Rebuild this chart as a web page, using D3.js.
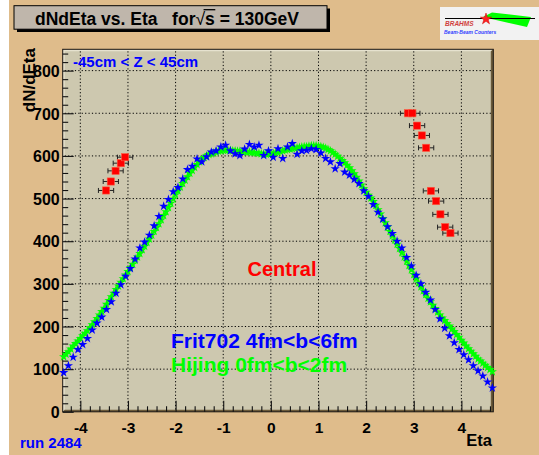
<!DOCTYPE html>
<html><head><meta charset="utf-8">
<script src="https://cdn.jsdelivr.net/npm/d3@7"></script>
<style>
html,body{margin:0;padding:0;background:#fff;}
svg text{font-family:"Liberation Sans",Arial,Helvetica,sans-serif;font-weight:bold;white-space:pre;}
</style></head>
<body><svg id="c" width="539" height="455"></svg>
<script>
// ---------- data ----------
const xTicks = [-4,-3,-2,-1,0,1,2,3,4];
const yTicks = [0,100,200,300,400,500,600,700,800];

// Hijing 0fm<b<2fm (green), bins of 0.05 in eta starting at -4.35
const hijingStart = -4.35, hijingStep = 0.05;
const hijingVal = [
 129,135,141,147,154,160,166,172,178,184,
 190,197,204,211,219,227,235,243,252,261,
 270,278,287,295,304,312,321,329,338,346,
 355,363,371,380,388,397,405,414,423,432,
 441,450,460,469,479,489,499,509,518,527,
 535,543,551,559,566,573,580,586,592,596,
 600,603,605,607,609,611,612,613,613,613,
 613,612,612,611,611,610,610,609,609,608,
 608,607,606,605,605,604,605,605,606,607,
 609,610,612,614,615,616,617,618,619,620,
 621,622,622,623,624,624,624,623,622,620,
 618,615,612,608,604,599,594,589,584,578,
 572,565,558,550,541,532,523,515,508,501,
 493,484,474,464,453,443,433,423,413,403,
 393,383,373,363,353,343,333,322,312,302,
 293,284,275,266,258,250,242,234,227,220,
 214,207,201,194,188,181,175,168,161,154,
 148,142,136,130,124,119,114,109,104,99,
 94];
const hijingEta = hijingVal.map((v,i)=>Math.round((hijingStart + i*hijingStep)*100)/100);

// Frit702 4fm<b<6fm (blue)
const fritEta = [-4.35,-4.25,-4.15,-4.05,-3.95,-3.85,-3.75,-3.65,-3.55,-3.45,-3.35,-3.25,-3.15,-3.05,-2.95,-2.85,-2.75,-2.65,-2.55,-2.45,-2.35,-2.25,-2.15,-2.05,-1.95,-1.85,-1.75,-1.65,-1.55,-1.45,-1.35,-1.25,-1.15,-1.05,-0.95,-0.85,-0.75,-0.65,-0.55,-0.45,-0.35,-0.25,-0.15,-0.05,0.05,0.15,0.25,0.35,0.45,0.55,0.65,0.75,0.85,0.95,1.05,1.15,1.25,1.35,1.45,1.55,1.65,1.75,1.85,1.95,2.05,2.15,2.25,2.35,2.45,2.55,2.65,2.75,2.85,2.95,3.05,3.15,3.25,3.35,3.45,3.55,3.65,3.75,3.85,3.95,4.05,4.15,4.25,4.35,4.45,4.55,4.65];
const fritVal = [92,108,128,146,158,172,192,208,222,240,258,278,298,318,336,358,384,398,414,436,458,482,498,516,526,546,568,576,593,586,598,609,612,621,625,612,605,601,616,627,621,625,601,612,597,617,594,621,629,604,612,613,617,615,607,594,586,570,582,562,555,545,535,518,505,486,468,452,434,418,400,384,362,342,320,300,280,262,240,218,196,178,162,146,134,122,108,96,84,70,56];

// BRAHMS data (red squares, with eta errors)
const brahmsEta = [-3.46,-3.36,-3.26,-3.15,-3.06,2.88,2.97,3.07,3.17,3.26,3.36,3.47,3.56,3.66,3.77];
const brahmsVal = [519,540,565,583,597,700,700,671,648,619,518,494,463,433,419];
const brahmsErr = [0.16,0.16,0.16,0.16,0.16,0.16,0.16,0.16,0.16,0.16,0.16,0.16,0.16,0.16,0.16];

// ---------- drawing ----------
const svg = d3.select("#c");
const W = 539, H = 455;
const bg = "#dfbc8b", frameFill = "#cdc8af";

svg.append("rect").attr("x",0).attr("y",0).attr("width",W).attr("height",H).attr("fill","#ffffff");
svg.append("rect").attr("x",9).attr("y",0).attr("width",W-9).attr("height",H).attr("fill",bg);

const x0 = 62.7, x1 = 493.3, y0 = 411.8, y1 = 49.3;
const x = d3.scaleLinear().domain([-4.37, 4.67]).range([x0, x1]);
const y = d3.scaleLinear().domain([0, 850]).range([y0, y1]);

// frame
svg.append("rect").attr("x",x0).attr("y",y1).attr("width",x1-x0).attr("height",y0-y1).attr("fill",frameFill);
svg.append("path").attr("fill","#e6e2cf")
  .attr("d",`M${x0},${y1}H${x1}L${x1-2},${y1+2}H${x0+2}V${y0-2}L${x0},${y0}Z`);
svg.append("path").attr("fill","#6b5a3a")
  .attr("d",`M${x1},${y1}V${y0}H${x0}L${x0+2},${y0-2}H${x1-2.5}V${y1+2}Z`);
svg.append("rect").attr("x",x0).attr("y",y1).attr("width",x1-x0).attr("height",y0-y1)
  .attr("fill","none").attr("stroke","#1a1410").attr("stroke-width",1);

// grid
const grid = svg.append("g").attr("stroke","#000").attr("stroke-width",1).attr("stroke-dasharray","1.2,2.2");
grid.selectAll(".gx").data(xTicks).join("line")
  .attr("x1",d=>x(d)).attr("x2",d=>x(d)).attr("y1",y1+2).attr("y2",y0-2);
grid.selectAll(".gy").data(yTicks.filter(d=>d>0)).join("line")
  .attr("y1",d=>y(d)).attr("y2",d=>y(d)).attr("x1",x0+2).attr("x2",x1-2);

// axes (ticks inside)
const xMinor = d3.range(-4.2, 4.61, 0.2).map(v=>Math.round(v*10)/10).filter(v=>!xTicks.includes(v));
const yMinor = d3.range(20, 841, 20).filter(v=>v%100!==0);

const gx = svg.append("g").attr("transform",`translate(0,${y0})`)
  .call(d3.axisBottom(x).tickValues(xTicks).tickSize(-11).tickPadding(10.5).tickFormat(d3.format("d")));
svg.append("g").attr("transform",`translate(0,${y0})`)
  .call(d3.axisBottom(x).tickValues(xMinor).tickSize(-5.5).tickFormat(""));
const gy = svg.append("g").attr("transform",`translate(${x0},0)`)
  .call(d3.axisLeft(y).tickValues(yTicks).tickSize(-11).tickPadding(4).tickFormat(d3.format("d")));
svg.append("g").attr("transform",`translate(${x0},0)`)
  .call(d3.axisLeft(y).tickValues(yMinor).tickSize(-5.5).tickFormat(""));
svg.selectAll(".domain").remove();
svg.selectAll(".tick line").attr("stroke","#111").attr("stroke-width",1.1);
gx.selectAll("text").attr("font-size",15.5).attr("fill","#000").attr("dy","0.71em")
  .text(d=>d<0? "-"+Math.abs(d) : d);
gy.selectAll("text").attr("font-size",16).attr("fill","#000").attr("dy","0.36em")
  .attr("x",-3);

// series
const star = d3.symbol().type(d3.symbolStar).size(27);
const gG = svg.append("g");
gG.selectAll("path").data(hijingEta.map((e,i)=>[e,hijingVal[i]])).join("path")
  .attr("d",star).attr("transform",d=>`translate(${x(d[0])},${y(d[1])})`)
  .attr("fill","#00ff00");
const gB = svg.append("g");
gB.selectAll("path").data(fritEta.map((e,i)=>[e,fritVal[i]])).join("path")
  .attr("d",star).attr("transform",d=>`translate(${x(d[0])},${y(d[1])})`)
  .attr("fill","#0000ff");

// BRAHMS points with horizontal error bars
const bd = brahmsEta.map((e,i)=>({e, v:brahmsVal[i], err:brahmsErr[i]}));
const eb = svg.append("g").attr("stroke","#222").attr("stroke-width",1);
eb.selectAll(".h").data(bd).join("line")
  .attr("x1",d=>x(d.e-d.err)).attr("x2",d=>x(d.e+d.err)).attr("y1",d=>y(d.v)).attr("y2",d=>y(d.v));
eb.selectAll(".l").data(bd).join("line")
  .attr("x1",d=>x(d.e-d.err)).attr("x2",d=>x(d.e-d.err)).attr("y1",d=>y(d.v)-2.5).attr("y2",d=>y(d.v)+2.5);
eb.selectAll(".r").data(bd).join("line")
  .attr("x1",d=>x(d.e+d.err)).attr("x2",d=>x(d.e+d.err)).attr("y1",d=>y(d.v)-2.5).attr("y2",d=>y(d.v)+2.5);
svg.append("g").selectAll("rect").data(bd).join("rect")
  .attr("x",d=>x(d.e)-3.6).attr("y",d=>y(d.v)-3.6).attr("width",7.2).attr("height",7.2)
  .attr("fill","#ff0000").attr("stroke","#ff5a40").attr("stroke-width",0.6);

// texts
svg.append("text").attr("x",73).attr("y",67).attr("font-size",15).attr("fill","#0000ff").text("-45cm < Z < 45cm");
svg.append("text").attr("transform","translate(35,48) rotate(-90)").attr("text-anchor","end")
  .attr("font-size",17).attr("fill","#000").text("dN/dEta");
svg.append("text").attr("x",492).attr("y",446).attr("text-anchor","end").attr("font-size",16.5).attr("fill","#000").text("Eta");
svg.append("text").attr("x",282).attr("y",276).attr("text-anchor","middle").attr("font-size",20).attr("fill","#ff0000").text("Central");
svg.append("text").attr("x",171).attr("y",348).attr("font-size",21).attr("fill","#0000ff").text("Frit702 4fm<b<6fm");
svg.append("text").attr("x",171).attr("y",372).attr("font-size",21).attr("fill","#00ff00").text("Hijing 0fm<b<2fm");
svg.append("text").attr("x",20).attr("y",448).attr("font-size",15).attr("fill","#0000ff").text("run 2484");

// title box
svg.append("rect").attr("x",17).attr("y",8.5).attr("width",313).attr("height",23.5).attr("fill","#000");
svg.append("rect").attr("x",14).attr("y",5.7).attr("width",313).attr("height",23.5).attr("fill","#bfb6ab").attr("stroke","#000").attr("stroke-width",1);
const pre = "dNdEta vs. Eta   for";
const tt = svg.append("text").attr("x",35).attr("y",24.5).attr("font-size",17.5).attr("fill","#000")
  .attr("xml:space","preserve");
tt.append("tspan").text(pre);
tt.append("tspan").attr("font-weight","normal").text("\u221A");
tt.append("tspan").text("s");
tt.append("tspan").text(" = 130GeV");
try {
  const tnode = tt.node();
  const rt = tnode.getExtentOfChar(pre.length);
  const sx = tnode.getExtentOfChar(pre.length + 1);
  svg.append("line").attr("x1",rt.x + rt.width - 1.5).attr("x2",sx.x + sx.width + 0.5)
    .attr("y1",rt.y + 1.2).attr("y2",rt.y + 1.2).attr("stroke","#000").attr("stroke-width",1.3);
} catch(e) {}

// logo
const lg = svg.append("g");
lg.append("rect").attr("x",440).attr("y",7).attr("width",99).attr("height",33).attr("fill","#f2f2f2");
lg.append("path").attr("d","M483,17 L492,12.5 L531,17 L527,27 Z").attr("fill","#00ff00");
lg.append("line").attr("x1",445).attr("x2",535).attr("y1",18.5).attr("y2",18.5).attr("stroke","#000").attr("stroke-width",1);
lg.append("path").attr("d",d3.symbol().type(d3.symbolStar).size(40)).attr("transform","translate(486,19)")
  .attr("fill","#ff2020").attr("stroke","#cc0000").attr("stroke-width",0.5);
lg.append("text").attr("x",445).attr("y",25.5).attr("font-size",6.5).attr("font-style","italic")
  .attr("font-family","Liberation Serif,serif").attr("fill","#d04040").text("BRAHMS");
lg.append("text").attr("x",444).attr("y",34).attr("font-size",5).attr("font-style","italic")
  .attr("font-family","Liberation Serif,serif").attr("fill","#3040ff").text("Beam-Beam Counters");
</script></body></html>
